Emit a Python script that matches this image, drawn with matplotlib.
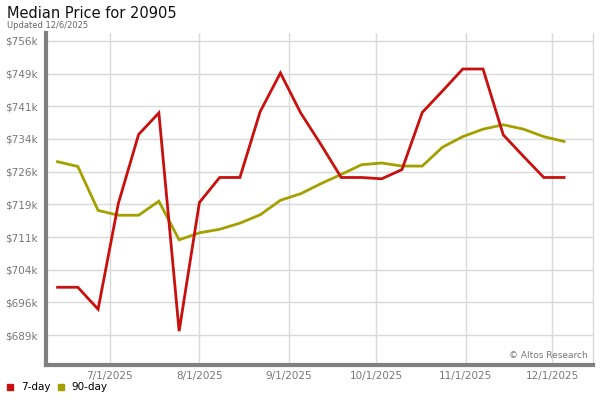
import datetime as dt
import numpy as np
import matplotlib
matplotlib.use('Agg')
import matplotlib.pyplot as plt
import matplotlib.dates as mdates
from matplotlib.ticker import FuncFormatter

# weekly data points (Fridays), values in $k
start = dt.date(2025, 6, 13)
weeks = [start + dt.timedelta(days=7 * i) for i in range(26)]

day7 = [699.9, 699.9, 694.9, 719.0, 734.7, 739.6, 689.9, 719.2, 724.9, 724.9,
        739.9, 748.7, 739.6, 732.4, 724.9, 724.9, 724.6, 726.7, 739.7, 744.6,
        749.6, 749.6, 734.6, 729.7, 724.9, 724.9]
day90 = [728.5, 727.4, 717.4, 716.3, 716.3, 719.5, 710.7, 712.3, 713.1, 714.5,
         716.4, 719.7, 721.2, 723.5, 725.6, 727.8, 728.2, 727.5, 727.5, 731.8,
         734.2, 735.9, 736.9, 735.9, 734.2, 733.1]

red = '#c8100e'
olive = '#a3a000'
tick_grey = '#777777'

fig = plt.figure(figsize=(6, 4), dpi=100)
ax = fig.add_axes([46 / 600, 35 / 400, 547 / 600, 332 / 400])

ax.plot(weeks, day7, color=red, lw=2.0, solid_joinstyle='miter', zorder=3)
ax.plot(weeks, day90, color=olive, lw=2.0, solid_joinstyle='miter', zorder=2)

ax.set_xlim(dt.date(2025, 6, 9), dt.date(2025, 12, 15))
ax.set_ylim(682.2, 757.8)

yt = np.linspace(689, 756, 10)
ax.set_yticks(yt)
ax.yaxis.set_major_formatter(FuncFormatter(lambda v, p: '$%dk' % round(v)))

months = [dt.date(2025, m, 1) for m in range(7, 13)]
ax.set_xticks(months)
ax.xaxis.set_major_formatter(FuncFormatter(
    lambda v, p: '{0.month}/{0.day}/{0.year}'.format(mdates.num2date(v))))

ax.grid(True, color='#d9d9d9', lw=1)
ax.set_axisbelow(True)
ax.tick_params(length=0, labelsize=7.5, labelcolor=tick_grey, pad=6)
ax.tick_params(axis='x', pad=4)

ax.spines['top'].set_visible(False)
ax.spines['right'].set_color('#d9d9d9')
ax.spines['right'].set_linewidth(1)
for s in ['left', 'bottom']:
    ax.spines[s].set_color('#808080')
    ax.spines[s].set_linewidth(3)

fig.text(7 / 600, 1 - 14 / 400, 'Median Price for 20905', fontsize=10.5,
         color='#111111', va='center')
fig.text(7 / 600, 1 - 25 / 400, 'Updated 12/6/2025', fontsize=6,
         color='#666666', va='center')
ax.text(0.99, 0.03, '\u00a9 Altos Research', transform=ax.transAxes,
        ha='right', va='center', fontsize=6.5, color='#777777')

# legend
fig.patches.append(plt.Rectangle((7 / 600, 1 - 390 / 400), 6 / 600, 6 / 400,
                                 transform=fig.transFigure, color=red))
fig.text(21 / 600, 1 - 387 / 400, '7-day', fontsize=7.5, va='center')
fig.patches.append(plt.Rectangle((58 / 600, 1 - 390 / 400), 6 / 600, 6 / 400,
                                 transform=fig.transFigure, color=olive))
fig.text(71 / 600, 1 - 387 / 400, '90-day', fontsize=7.5, va='center')

fig.savefig('out.png', dpi=100)
